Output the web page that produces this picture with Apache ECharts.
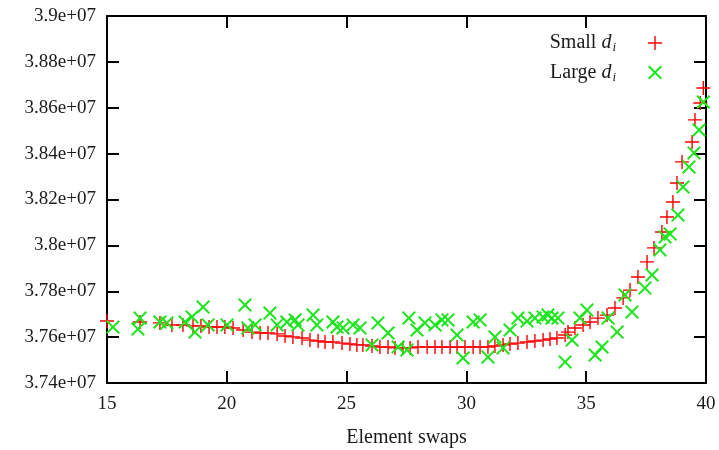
<!DOCTYPE html>
<html>
<head>
<meta charset="utf-8">
<script src="https://cdn.jsdelivr.net/npm/echarts@6/dist/echarts.min.js"></script>
<style>
  html, body { margin: 0; padding: 0; background: #fff; }
  #chart { width: 719px; height: 450px; }
</style>
</head>
<body>
<div id="chart"></div>
<script>
// Cost against number of element swaps, two d_i settings
const smallX = [15.00, 16.38, 17.21, 17.71, 18.17, 18.59, 18.92, 19.26, 19.59, 19.92,
  20.26, 20.68, 21.05, 21.39, 21.72, 22.10, 22.43, 22.76, 23.14, 23.47,
  23.81, 24.10, 24.43, 24.81, 25.14, 25.43, 25.68, 26.06, 26.39, 26.73,
  27.02, 27.35, 27.65, 27.98, 28.36, 28.69, 28.98, 29.32, 29.61, 29.94,
  30.28, 30.57, 30.90, 31.19, 31.53, 31.82, 32.15, 32.53, 32.86, 33.20,
  33.49, 33.78, 34.12, 34.24, 34.53, 34.87, 35.16, 35.49, 35.87, 36.20,
  36.54, 36.83, 37.16, 37.54, 37.83, 38.16, 38.37, 38.62, 38.79, 39.00,
  39.42, 39.54, 39.76, 39.89];
const smallY = [3.7670e7, 3.7666e7, 3.7662e7, 3.7653e7, 3.7653e7, 3.7649e7, 3.7649e7, 3.7644e7, 3.7644e7, 3.7644e7,
  3.7640e7, 3.7631e7, 3.7622e7, 3.7618e7, 3.7618e7, 3.7614e7, 3.7605e7, 3.7601e7, 3.7596e7, 3.7587e7,
  3.7583e7, 3.7579e7, 3.7579e7, 3.7574e7, 3.7570e7, 3.7566e7, 3.7566e7, 3.7561e7, 3.7557e7, 3.7557e7,
  3.7553e7, 3.7553e7, 3.7553e7, 3.7557e7, 3.7557e7, 3.7557e7, 3.7557e7, 3.7557e7, 3.7557e7, 3.7557e7,
  3.7557e7, 3.7557e7, 3.7557e7, 3.7561e7, 3.7566e7, 3.7570e7, 3.7574e7, 3.7579e7, 3.7583e7, 3.7587e7,
  3.7592e7, 3.7596e7, 3.7609e7, 3.7622e7, 3.7640e7, 3.7653e7, 3.7666e7, 3.7683e7, 3.7696e7, 3.7727e7,
  3.7771e7, 3.7805e7, 3.7862e7, 3.7928e7, 3.7989e7, 3.8058e7, 3.8124e7, 3.8189e7, 3.8272e7, 3.8364e7,
  3.8451e7, 3.8547e7, 3.8621e7, 3.8686e7];

const largeX = [15.25, 16.29, 16.38, 17.21, 17.50, 18.26, 18.55, 18.67, 19.01, 19.22,
  20.01, 20.76, 20.88, 21.18, 21.80, 22.10, 22.51, 22.85, 22.97, 23.60,
  23.76, 24.43, 24.60, 24.85, 25.27, 25.56, 26.06, 26.31, 26.73, 27.15,
  27.52, 27.60, 27.94, 28.27, 28.69, 28.98, 29.23, 29.61, 29.86, 30.28,
  30.57, 30.90, 31.19, 31.53, 31.82, 32.15, 32.53, 32.86, 33.20, 33.40,
  33.57, 33.82, 34.12, 34.41, 34.74, 35.03, 35.37, 35.66, 35.91, 36.29,
  36.62, 36.91, 37.45, 37.75, 38.08, 38.29, 38.50, 38.83, 39.04, 39.29,
  39.50, 39.71, 39.89];
const largeY = [3.7644e7, 3.7635e7, 3.7683e7, 3.7666e7, 3.7662e7, 3.7666e7, 3.7688e7, 3.7622e7, 3.7731e7, 3.7653e7,
  3.7653e7, 3.7740e7, 3.7640e7, 3.7653e7, 3.7705e7, 3.7653e7, 3.7666e7, 3.7675e7, 3.7653e7, 3.7696e7,
  3.7653e7, 3.7666e7, 3.7644e7, 3.7640e7, 3.7653e7, 3.7640e7, 3.7566e7, 3.7662e7, 3.7618e7, 3.7557e7,
  3.7544e7, 3.7683e7, 3.7631e7, 3.7662e7, 3.7653e7, 3.7675e7, 3.7675e7, 3.7609e7, 3.7509e7, 3.7666e7,
  3.7675e7, 3.7513e7, 3.7601e7, 3.7553e7, 3.7631e7, 3.7683e7, 3.7670e7, 3.7683e7, 3.7688e7, 3.7696e7,
  3.7683e7, 3.7683e7, 3.7492e7, 3.7587e7, 3.7683e7, 3.7718e7, 3.7522e7, 3.7557e7, 3.7683e7, 3.7622e7,
  3.7784e7, 3.7710e7, 3.7814e7, 3.7871e7, 3.7980e7, 3.8037e7, 3.8050e7, 3.8132e7, 3.8255e7, 3.8342e7,
  3.8403e7, 3.8503e7, 3.8625e7];

const yTickLabels = ['3.74e+07', '3.76e+07', '3.78e+07', '3.8e+07', '3.82e+07',
  '3.84e+07', '3.86e+07', '3.88e+07', '3.9e+07'];
const xTickLabels = ['15', '20', '25', '30', '35', '40'];

const Y_MIN = 3.74e7, Y_MAX = 3.9e7, Y_STEP = 2e5;
const X_MIN = 15, X_MAX = 40, X_STEP = 5;

const PLUS = 'path://M45,0H55V45H100V55H55V100H45V55H0V45H45Z';
const CROSS = 'path://M0,10L10,0L50,40L90,0L100,10L60,50L100,90L90,100L50,60L10,100L0,90L40,50Z';

const FONT = '"Liberation Serif", "DejaVu Serif", serif';
const INK = '#1a1a1a';

const zip = (xs, ys) => xs.map((x, i) => [x, ys[i]]);

const frameLine = { show: true, onZero: false, lineStyle: { color: '#000', width: 2 } };
const frameTick = { show: true, inside: true, length: 12, lineStyle: { color: '#000', width: 2 } };

const chart = echarts.init(document.getElementById('chart'), null, { renderer: 'canvas' });
chart.setOption({
  animation: false,
  backgroundColor: '#fff',
  grid: { left: 107, right: 13, top: 16, bottom: 67, containLabel: false, outerBoundsMode: 'none' },
  legend: {
    orient: 'vertical',
    align: 'right',
    right: 57,
    top: 33,
    padding: 0,
    itemWidth: 14,
    itemHeight: 14,
    itemGap: 8,
    data: [
      { name: 'Small', icon: PLUS },
      { name: 'Large', icon: CROSS }
    ],
    formatter: name => '{n|' + name + ' }{d|d}{s|i}',
    textStyle: {
      padding: [0, 27, 0, 0],
      rich: {
        n: { fontFamily: FONT, fontSize: 20, color: INK },
        d: { fontFamily: FONT, fontSize: 20, fontStyle: 'italic', color: INK },
        s: { fontFamily: FONT, fontSize: 13, fontStyle: 'italic', color: INK, padding: [10, 0, 0, 1] }
      }
    }
  },
  xAxis: [
    {
      type: 'value', min: X_MIN, max: X_MAX, interval: X_STEP,
      name: 'Element swaps', nameLocation: 'middle', nameGap: 45,
      nameTextStyle: { fontFamily: FONT, fontSize: 20, color: INK },
      axisLine: frameLine, axisTick: frameTick, splitLine: { show: false },
      axisLabel: {
        margin: 12, fontFamily: FONT, fontSize: 19, color: INK,
        formatter: v => xTickLabels[Math.round((v - X_MIN) / X_STEP)]
      }
    },
    {
      type: 'value', position: 'top', min: X_MIN, max: X_MAX, interval: X_STEP,
      axisLine: frameLine, axisTick: frameTick, splitLine: { show: false },
      axisLabel: { show: false }
    }
  ],
  yAxis: [
    {
      type: 'value', min: Y_MIN, max: Y_MAX, interval: Y_STEP,
      axisLine: frameLine, axisTick: frameTick, splitLine: { show: false },
      axisLabel: {
        margin: 11, fontFamily: FONT, fontSize: 19, color: INK,
        formatter: v => yTickLabels[Math.round((v - Y_MIN) / Y_STEP)]
      }
    },
    {
      type: 'value', position: 'right', min: Y_MIN, max: Y_MAX, interval: Y_STEP,
      axisLine: frameLine, axisTick: frameTick, splitLine: { show: false },
      axisLabel: { show: false }
    }
  ],
  series: [
    {
      name: 'Small', type: 'scatter', symbol: PLUS, symbolSize: 14,
      itemStyle: { color: '#ff0000', opacity: 1 },
      data: zip(smallX, smallY)
    },
    {
      name: 'Large', type: 'scatter', symbol: CROSS, symbolSize: 14,
      itemStyle: { color: '#19e619', opacity: 1 },
      data: zip(largeX, largeY)
    }
  ]
});
</script>
</body>
</html>
